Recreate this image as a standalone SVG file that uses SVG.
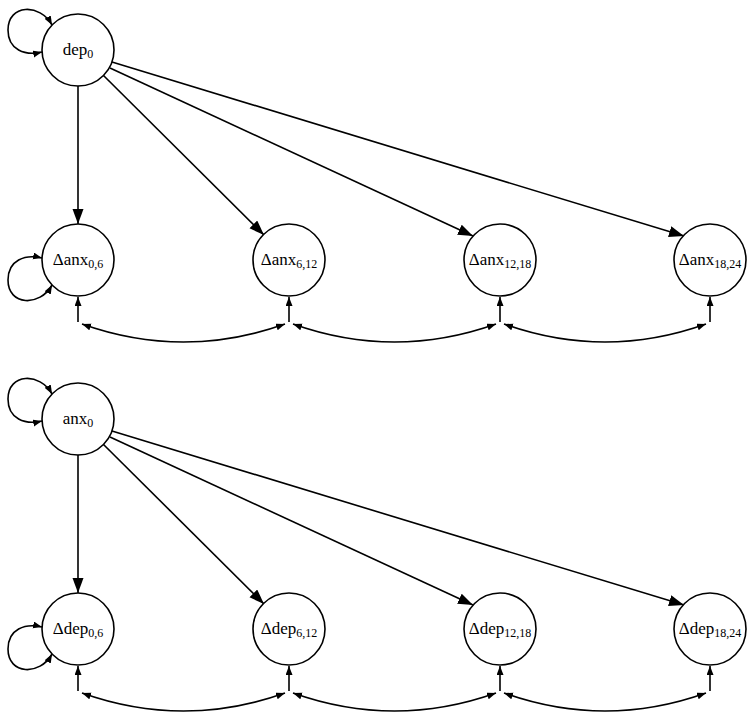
<svg xmlns="http://www.w3.org/2000/svg" width="754" height="721" viewBox="0 0 754 721">
<style>
.node circle{fill:#fff;stroke:#000;stroke-width:1.6}
.node text{font-family:"Liberation Serif","Times New Roman",serif;font-size:17px;fill:#000;text-anchor:middle}
.sub{font-size:12px}
#edges path{fill:none;stroke:#000;stroke-width:1.6}
.big{marker-end:url(#ah)}
.sm{marker-end:url(#as)}
.dbl{marker-start:url(#as);marker-end:url(#as)}
</style>
<defs>
<marker id="ah" markerUnits="userSpaceOnUse" markerWidth="16" markerHeight="12" refX="15" refY="5.5" orient="auto"><path d="M0,0 L15,5.5 L0,11 z" fill="#000"/></marker>
<marker id="as" markerUnits="userSpaceOnUse" markerWidth="10" markerHeight="8" refX="9" refY="3.5" orient="auto-start-reverse"><path d="M0,0 L9,3.5 L0,7 z" fill="#000"/></marker>
</defs>
<rect width="754" height="721" fill="#fff"/>
<g id="edges">
<path class="dbl" d="M52,25 C40,3 8,4 8,30 C8,50 25,56 42,52"/>
<path class="big" d="M78,86 L78,224"/>
<path class="big" d="M103,75 L264,235"/>
<path class="big" d="M110,68 L473,236"/>
<path class="big" d="M112,62 L684,236"/>
<path class="dbl" d="M52,285 C40,307 8,306 8,280 C8,260 25,254 42,258"/>
<path class="sm" d="M78,322 L78,297"/>
<path class="sm" d="M289,322 L289,297"/>
<path class="sm" d="M500,322 L500,297"/>
<path class="sm" d="M710,322 L710,297"/>
<path class="dbl" d="M82,324 Q183.5,360 285,324"/>
<path class="dbl" d="M293,324 Q394.5,360 496,324"/>
<path class="dbl" d="M504,324 Q605,360 706,324"/>
<path class="dbl" d="M52,394 C40,372 8,373 8,399 C8,419 25,425 42,421"/>
<path class="big" d="M78,455 L78,593"/>
<path class="big" d="M103,444 L264,604"/>
<path class="big" d="M110,437 L473,605"/>
<path class="big" d="M112,431 L684,605"/>
<path class="dbl" d="M52,654 C40,676 8,675 8,649 C8,629 25,623 42,627"/>
<path class="sm" d="M78,691 L78,666"/>
<path class="sm" d="M289,691 L289,666"/>
<path class="sm" d="M500,691 L500,666"/>
<path class="sm" d="M710,691 L710,666"/>
<path class="dbl" d="M82,693 Q183.5,729 285,693"/>
<path class="dbl" d="M293,693 Q394.5,729 496,693"/>
<path class="dbl" d="M504,693 Q605,729 706,693"/>
</g>
<g id="dep0" class="node"><circle cx="78" cy="50" r="36"/><text x="78" y="55">dep<tspan class="sub" dy="3">0</tspan></text></g>
<g id="danx06" class="node"><circle cx="78" cy="260" r="36"/><text x="78" y="265">Δanx<tspan class="sub" dy="3">0,6</tspan></text></g>
<g id="danx612" class="node"><circle cx="289" cy="260" r="36"/><text x="289" y="265">Δanx<tspan class="sub" dy="3">6,12</tspan></text></g>
<g id="danx1218" class="node"><circle cx="500" cy="260" r="36"/><text x="500" y="265">Δanx<tspan class="sub" dy="3">12,18</tspan></text></g>
<g id="danx1824" class="node"><circle cx="710" cy="260" r="36"/><text x="710" y="265">Δanx<tspan class="sub" dy="3">18,24</tspan></text></g>
<g id="anx0" class="node"><circle cx="78" cy="419" r="36"/><text x="78" y="424">anx<tspan class="sub" dy="3">0</tspan></text></g>
<g id="ddep06" class="node"><circle cx="78" cy="629" r="36"/><text x="78" y="634">Δdep<tspan class="sub" dy="3">0,6</tspan></text></g>
<g id="ddep612" class="node"><circle cx="289" cy="629" r="36"/><text x="289" y="634">Δdep<tspan class="sub" dy="3">6,12</tspan></text></g>
<g id="ddep1218" class="node"><circle cx="500" cy="629" r="36"/><text x="500" y="634">Δdep<tspan class="sub" dy="3">12,18</tspan></text></g>
<g id="ddep1824" class="node"><circle cx="710" cy="629" r="36"/><text x="710" y="634">Δdep<tspan class="sub" dy="3">18,24</tspan></text></g>
</svg>
